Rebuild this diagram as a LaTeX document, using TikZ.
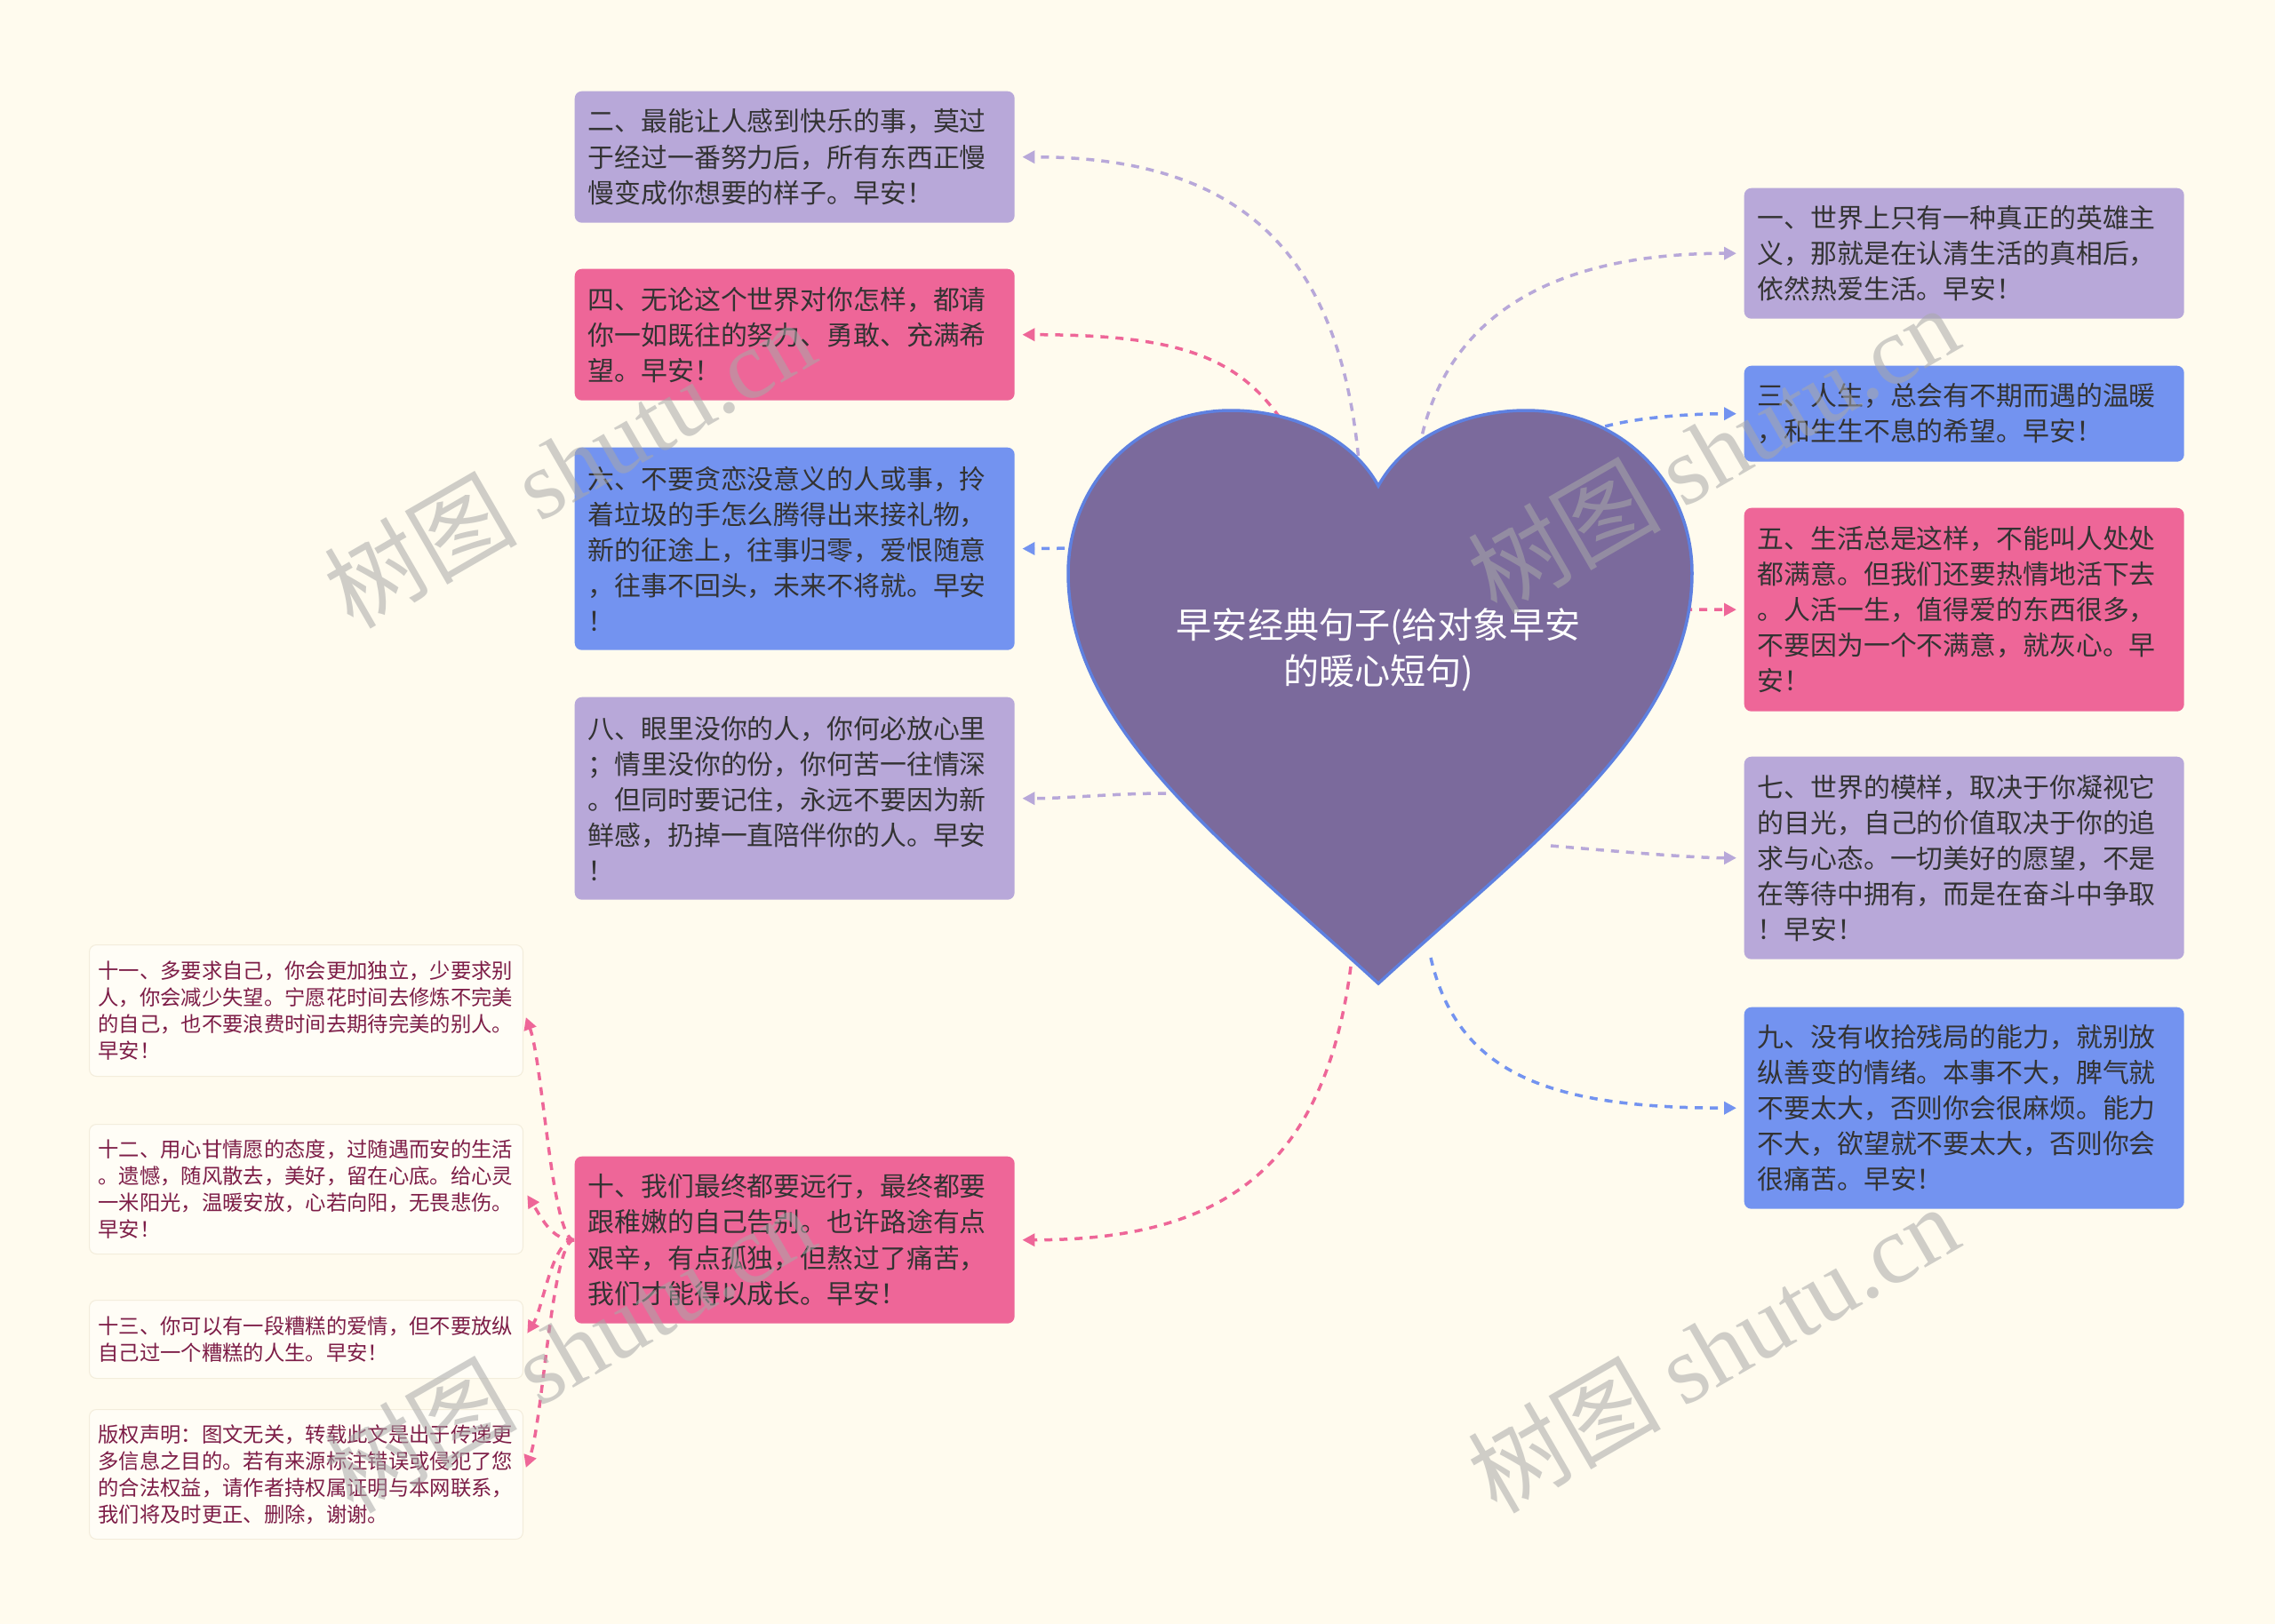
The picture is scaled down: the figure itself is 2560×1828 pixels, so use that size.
\documentclass[tikz,border=0pt]{standalone}
\usepackage{fontspec}
\setmainfont{Noto Sans CJK SC}
\newfontfamily\wmlatin{Liberation Serif}
\usepackage{xcolor}
\usepackage{tikz}
\usetikzlibrary{arrows.meta}
\definecolor{paper}{HTML}{FFFBEE}
\definecolor{heartfill}{HTML}{7B6A9C}
\definecolor{heartline}{HTML}{5E80E0}
\definecolor{lilac}{HTML}{B8A8D9}
\definecolor{rosepink}{HTML}{EE6698}
\definecolor{skyblue}{HTML}{7393F0}
\definecolor{inkgray}{HTML}{333333}
\definecolor{winered}{HTML}{7D1D47}
\definecolor{notefill}{HTML}{FFFDF6}
\definecolor{noteline}{HTML}{F3EDDC}
\definecolor{wmgray}{HTML}{A8A8A8}
\newcommand{\cardfont}{\fontsize{8.5pt}{11.4pt}\selectfont}
\newcommand{\notefont}{\fontsize{6.64pt}{8.54pt}\selectfont}
\newcommand{\heartfont}{\fontsize{11.4pt}{14.8pt}\selectfont}
\newcommand{\wmfont}{\fontsize{31pt}{31pt}\selectfont}

\begin{document}
\begin{tikzpicture}[x=0.1mm, y=-0.1mm, >={Triangle[length=1.4mm, width=1.4mm]},
    card/.style={anchor=north west, rounded corners=0.8mm, text width=46.5mm,
        inner xsep=1.5mm, inner ysep=0pt, align=left, text=inkgray,
        font=\cardfont, minimum height=#1},
    note/.style={anchor=north west, rounded corners=0.8mm, text width=46.8mm,
        inner xsep=1mm, inner ysep=0pt, align=left, text=winered, font=\notefont,
        fill=notefill, draw=noteline, line width=0.3pt, minimum height=#1},
    link/.style={->, line width=0.35mm, dash pattern=on 0.9mm off 0.8mm, shorten >=0.8mm},
    wmark/.style={rotate=30, text=wmgray, text opacity=0.55, font=\wmfont}]
    \useasboundingbox (0,0) rectangle (2560,1828);
    \fill[paper] (0,0) rectangle (2560,1828);

    % ── LEFT: QUOTES ──────────────────────────────────────────────────
    \node[card=14.8mm, fill=lilac] (q2) at (646,102)
        {二、最能让人感到快乐的事，莫过\\于经过一番努力后，所有东西正慢\\慢变成你想要的样子。早安！};
    \node[card=14.8mm, fill=rosepink] (q4) at (646,302)
        {四、无论这个世界对你怎样，都请\\你一如既往的努力、勇敢、充满希\\望。早安！};
    \node[card=22.8mm, fill=skyblue] (q6) at (646,503)
        {六、不要贪恋没意义的人或事，拎\\着垃圾的手怎么腾得出来接礼物，\\新的征途上，往事归零，爱恨随意\\，往事不回头，未来不将就。早安\\！};
    \node[card=22.8mm, fill=lilac] (q8) at (646,784)
        {八、眼里没你的人，你何必放心里\\；情里没你的份，你何苦一往情深\\。但同时要记住，永远不要因为新\\鲜感，扔掉一直陪伴你的人。早安\\！};
    \node[card=18.8mm, fill=rosepink] (q10) at (646,1301)
        {十、我们最终都要远行，最终都要\\跟稚嫩的自己告别。也许路途有点\\艰辛，有点孤独，但熬过了痛苦，\\我们才能得以成长。早安！};

    % ── RIGHT: QUOTES ─────────────────────────────────────────────────
    \node[card=14.7mm, fill=lilac] (q1) at (1962,211)
        {一、世界上只有一种真正的英雄主\\义，那就是在认清生活的真相后，\\依然热爱生活。早安！};
    \node[card=10.8mm, fill=skyblue] (q3) at (1962,411)
        {三、人生，总会有不期而遇的温暖\\，和生生不息的希望。早安！};
    \node[card=22.9mm, fill=rosepink] (q5) at (1962,571)
        {五、生活总是这样，不能叫人处处\\都满意。但我们还要热情地活下去\\。人活一生，值得爱的东西很多，\\不要因为一个不满意，就灰心。早\\安！};
    \node[card=22.8mm, fill=lilac] (q7) at (1962,851)
        {七、世界的模样，取决于你凝视它\\的目光，自己的价值取决于你的追\\求与心态。一切美好的愿望，不是\\在等待中拥有，而是在奋斗中争取\\！早安！};
    \node[card=22.7mm, fill=skyblue] (q9) at (1962,1133)
        {九、没有收拾残局的能力，就别放\\纵善变的情绪。本事不大，脾气就\\不要太大，否则你会很麻烦。能力\\不大，欲望就不要太大，否则你会\\很痛苦。早安！};

    % ── FAR LEFT: NOTES UNDER 十 ──────────────────────────────────────
    \node[note=14.8mm] (q11) at (100,1063)
        {十一、多要求自己，你会更加独立，少要求别\\人，你会减少失望。宁愿花时间去修炼不完美\\的自己，也不要浪费时间去期待完美的别人。\\早安！};
    \node[note=14.6mm] (q12) at (100,1265)
        {十二、用心甘情愿的态度，过随遇而安的生活\\。遗憾，随风散去，美好，留在心底。给心灵\\一米阳光，温暖安放，心若向阳，无畏悲伤。\\早安！};
    \node[note=8.8mm] (q13) at (100,1463)
        {十三、你可以有一段糟糕的爱情，但不要放纵\\自己过一个糟糕的人生。早安！};
    \node[note=14.6mm] (copy) at (100,1586)
        {版权声明：图文无关，转载此文是出于传递更\\多信息之目的。若有来源标注错误或侵犯了您\\的合法权益，请作者持权属证明与本网联系，\\我们将及时更正、删除，谢谢。};

    % ── LINKS ─────────────────────────────────────────────────────────
    \coordinate (h1) at (1597,505);
    \coordinate (h2) at (1530,530);
    \coordinate (h3) at (1790,485);
    \coordinate (h4) at (1440,470);
    \coordinate (h5) at (1895,686);
    \coordinate (h6) at (1215,617);
    \coordinate (h7) at (1745,952);
    \coordinate (h8) at (1312,893);
    \coordinate (h9) at (1610,1078);
    \coordinate (h10) at (1520,1088);

    \draw[link, lilac] (h2) .. controls +(-20,-250) and +(250,0) .. (q2.east);
    \draw[link, rosepink] (h4) .. controls +(-50,-70) and +(180,0) .. (q4.east);
    \draw[link, skyblue] (h6) -- (q6.east);
    \draw[link, lilac] (h8) .. controls +(-60,0) and +(60,0) .. (q8.east);
    \draw[link, rosepink] (h10) .. controls +(-30,230) and +(230,0) .. (q10.east);
    \draw[link, lilac] (h1) .. controls +(30,-160) and +(-200,0) .. (q1.west);
    \draw[link, skyblue] (h3) .. controls +(40,-15) and +(-60,0) .. (q3.west);
    \draw[link, rosepink] (h5) -- (q5.west);
    \draw[link, lilac] (h7) .. controls +(60,5) and +(-60,0) .. (q7.west);
    \draw[link, skyblue] (h9) .. controls +(30,130) and +(-220,0) .. (q9.west);
    \foreach \n/\dy in {q11/60, q12/35, q13/-35, copy/-60}
        \draw[link, rosepink] (q10.west) .. controls +(-25,0) and +(22,\dy) .. (\n.east);

    % ── HEART ─────────────────────────────────────────────────────────
    \draw[heartline, fill=heartfill, line width=0.35mm]
        (1551,547) .. controls (1520,490) and (1450,462) .. (1385,462)
        .. controls (1280,462) and (1202,545) .. (1202,645)
        .. controls (1202,820) and (1380,950) .. (1551,1107)
        .. controls (1722,950) and (1904,820) .. (1904,645)
        .. controls (1904,545) and (1826,462) .. (1717,462)
        .. controls (1652,462) and (1582,490) .. (1551,547) -- cycle;
    \node[text=white, font=\heartfont, align=center] (title) at (1551,732)
        {早安经典句子(给对象早安\\的暖心短句)};

    % ── WATERMARKS ────────────────────────────────────────────────────
    \node[wmark] (wm1) at (640,522) {树图 {\wmlatin shutu.cn}};
    \node[wmark] (wm2) at (1927,506) {树图 {\wmlatin shutu.cn}};
    \node[wmark] (wm3) at (640,1518) {树图 {\wmlatin shutu.cn}};
    \node[wmark] (wm4) at (1927,1518) {树图 {\wmlatin shutu.cn}};
\end{tikzpicture}
\end{document}
